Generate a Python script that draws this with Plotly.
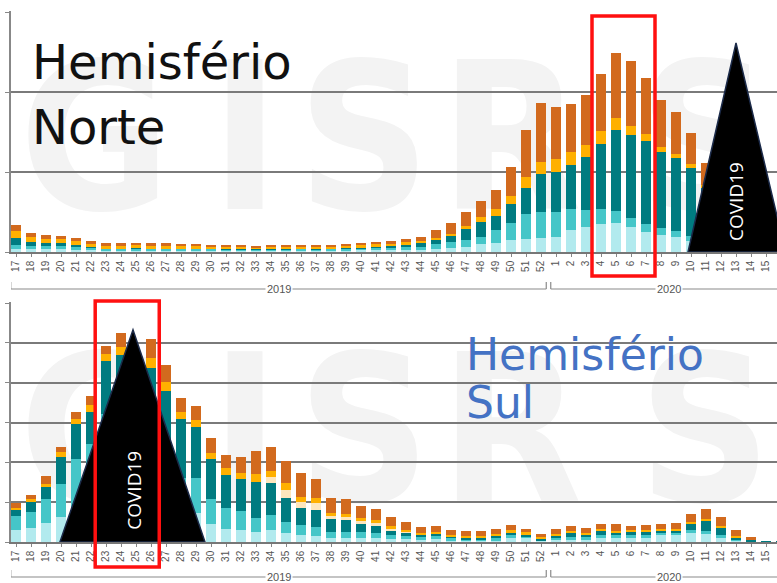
import plotly.graph_objects as go

# ---------------- data ----------------
weeks = [str(w) for w in range(17, 53)] + [str(w) for w in range(1, 17)]
years = ["2019"] * 36 + ["2020"] * 16

# Northern hemisphere (stack bottom -> top)
north_pale = [3, 3, 3, 3, 2, 2, 1.5, 1.5, 1.5, 1.5, 1.5, 1.5, 1.5, 1.5, 1.5, 1.5, 1.5, 1.5,
              1.5, 1.5, 1.5, 1.5, 1.5, 2, 2, 2, 2, 2.5, 3, 4, 5, 8, 9, 12, 13, 14,
              15, 22, 25, 28, 29, 25, 20, 17, 15, 11, 9, 7, 5, 4, 3, 2]
north_turq = [4, 3, 3, 3, 3, 2, 1.5, 1.5, 2, 1.5, 1.5, 1.5, 1.5, 1.5, 1, 1, 1, 1,
              1, 1.5, 1, 1.5, 1.5, 1.5, 2, 2, 3, 3, 5, 6, 7, 7, 13, 17, 25, 26,
              25, 21, 17, 15, 12, 9, 8, 7, 6, 5, 5, 4, 3, 2, 2, 2]
north_teal = [7, 4, 3, 3, 2, 1, 0.5, 0.5, 0.5, 0.5, 0.5, 0.5, 0.5, 0.5, 0.5, 0.5, 0.5, 0.5,
              0.5, 0.5, 0.5, 0.5, 1, 1, 1.5, 2, 2.5, 3.5, 4, 6, 11, 15, 14, 19, 26, 38,
              40, 44, 53, 65, 81, 83, 83, 76, 73, 68, 50, 38, 26, 18, 12, 9]
north_yellow = [7, 5, 4, 4, 4, 3, 3, 3, 3, 3, 3, 2.5, 2.5, 2, 2, 2, 1.5, 2,
                2, 2, 2, 2, 2, 2.5, 2.5, 2.5, 2.5, 2, 2, 2, 3, 5, 7, 8, 11, 12,
                13, 13, 12, 13, 12, 9, 7, 5, 4, 4, 3, 2, 2, 1, 1, 1]
north_dark = [6, 4, 4, 3, 3, 3, 2.5, 2.5, 2.5, 2.5, 2.5, 2, 2, 2, 2, 2, 2, 2,
              2, 2, 2, 2, 2, 2, 2, 2.5, 3, 4, 8, 11, 14, 16, 19, 29, 47, 59,
              52, 48, 50, 57, 65, 65, 56, 47, 42, 31, 22, 19, 14, 10, 7, 6]

# Southern hemisphere
south_pale = [12, 14, 19, 25, 35, 49, 69, 63, 55, 55, 35, 29, 29, 18, 13, 12, 10, 12,
              9, 7, 6, 4, 4, 4, 4, 3, 3, 2, 3, 2, 1, 1, 2, 4, 4, 1,
              3, 3, 3, 4, 4, 4, 4, 7, 8, 9, 8, 5, 1, 0.5, 0, 0]
south_turq = [14, 16, 24, 33, 48, 49, 60, 65, 55, 60, 40, 35, 35, 25, 21, 19, 14, 15,
              11, 10, 9, 6, 6, 6, 5, 4, 3, 3, 3, 2, 2, 2, 2, 3, 2, 1,
              2, 2, 2, 3, 3, 3, 3, 3, 2, 3, 3, 2, 1, 0, 0, 0]
south_teal = [7, 11, 13, 27, 35, 33, 53, 60, 50, 60, 77, 60, 51, 40, 33, 32, 36, 32,
              24, 17, 17, 13, 12, 8, 7, 5, 4, 3, 3, 2, 2, 2, 3, 3, 2, 2,
              2, 5, 3, 5, 3, 4, 4, 2, 2, 7, 11, 8, 3, 2, 0.6, 0.4]
south_cream = [0, 0, 0, 0, 0, 0, 0, 0, 0, 0, 0, 0, 0, 0, 0, 0, 0, 6,
               8, 6, 7, 3, 3, 3, 3, 2, 1, 0, 0, 0, 0, 0, 0, 0, 0, 0,
               0, 0, 0, 0, 0, 0, 0, 0, 0, 0, 0, 0, 0, 0, 0, 0]
south_yellow = [1, 2, 2, 5, 6, 7, 7, 8, 8, 10, 9, 7, 8, 6, 7, 6, 8, 6,
                7, 5, 5, 3, 3, 3, 3, 2, 1, 1, 1, 1, 1, 1, 1, 2, 2, 1,
                1, 1, 1, 1, 1, 1, 1, 1, 1, 1, 1, 1, 1, 0.5, 0, 0]
south_dark = [5, 4, 8, 5, 7, 9, 8, 14, 12, 19, 17, 14, 14, 15, 13, 16, 23, 24,
              22, 24, 19, 15, 15, 12, 11, 9, 8, 6, 6, 5, 5, 5, 5, 5, 3, 3,
              5, 5, 5, 5, 7, 4, 5, 5, 6, 8, 10, 9, 6, 2, 0, 0]

# highlighted weeks (red boxes)
north_box = ("4", "7")
south_box = ("23", "26")

# ---------------- figure ----------------
W, H = 777, 583
def py(px):
    return 1 - px / H

idx = list(range(len(weeks)))
C_PALE, C_TURQ, C_TEAL = "#b2eaee", "#45c6c8", "#007b80"
C_CREAM, C_YEL, C_DARK = "#fde6bd", "#ffb000", "#d26a1e"

fig = go.Figure()

def add_stack(xa, ya, layers):
    for vals, col in layers:
        fig.add_trace(go.Bar(x=idx, y=vals, marker=dict(color=col, line=dict(width=0)),
                             xaxis=xa, yaxis=ya, showlegend=False, hoverinfo="skip"))

add_stack("x", "y", [(north_pale, C_PALE), (north_turq, C_TURQ), (north_teal, C_TEAL),
                     (north_yellow, C_YEL), (north_dark, C_DARK)])
add_stack("x2", "y2", [(south_pale, C_PALE), (south_turq, C_TURQ), (south_teal, C_TEAL),
                       (south_cream, C_CREAM), (south_yellow, C_YEL), (south_dark, C_DARK)])

xr = [(11 - 16) / 15, (777 - 16) / 15]
xdom = [11 / W, 1]
grid = "#7a7a7a"
tickfont = dict(family="Liberation Sans, Arial", size=10, color="#555555")
common_x = dict(range=xr, domain=xdom, tickvals=idx, ticktext=weeks, tickangle=-90,
                tickfont=tickfont, ticks="outside", ticklen=3, tickcolor="#888888",
                showline=True, linecolor="#777777", linewidth=1.5, showgrid=False,
                zeroline=False, fixedrange=True, automargin=False)
fig.update_layout(
    width=W, height=H, autosize=False,
    margin=dict(l=0, r=0, t=0, b=0),
    paper_bgcolor="white", plot_bgcolor="rgba(0,0,0,0)",
    barmode="stack", bargap=0.33,
    xaxis=dict(anchor="y", **common_x),
    xaxis2=dict(anchor="y2", **common_x),
    yaxis=dict(domain=[py(252), py(11)], range=[0, 241], dtick=80, showgrid=True,
               gridcolor=grid, gridwidth=1.5, showticklabels=False, ticks="outside",
               ticklen=4, tickcolor="#888888", showline=True, linecolor="#888888",
               linewidth=1.5, zeroline=False, anchor="x", automargin=False, fixedrange=True),
    yaxis2=dict(domain=[py(542), py(302)], range=[0, 241], dtick=40, showgrid=True,
                gridcolor=grid, gridwidth=1.5, showticklabels=False, ticks="outside",
                ticklen=4, tickcolor="#888888", showline=True, linecolor="#888888",
                linewidth=1.5, zeroline=False, anchor="x2", automargin=False, fixedrange=True),
)

shapes = []
annotations = []

# watermark letters (behind grid)
wm_x = [95, 245, 364, 511, 705]
for letters_y in (123, 415):
    for px_x, ch in zip(wm_x, "GISRS"):
        shapes.append(dict(type="rect", xref="paper", yref="paper",
                           x0=(px_x - 60) / W, x1=(px_x + 60) / W,
                           y0=py(letters_y + 90), y1=py(letters_y - 90),
                           line=dict(width=0), fillcolor="rgba(0,0,0,0)", layer="below",
                           label=dict(text=ch, textposition="middle center",
                                      font=dict(family="Liberation Sans Narrow, DejaVu Sans Condensed, Liberation Sans",
                                                size=205, color="#f3f3f3", weight="bold"))))

# year brackets
def year_bracket(xa, y_line_px):
    groups = []
    for i, yv in enumerate(years):
        if not groups or groups[-1][0] != yv:
            groups.append([yv, i, i])
        else:
            groups[-1][2] = i
    for k, (yv, a, b) in enumerate(groups):
        x0 = a - 0.35
        x1 = b + 0.35 if k < len(groups) - 1 else b + 2
        yl = py(y_line_px)
        yt = py(y_line_px - 7)
        shapes.append(dict(type="line", xref=xa, yref="paper", x0=x0, x1=x1, y0=yl, y1=yl,
                           line=dict(color="#8a8a8a", width=1.2)))
        shapes.append(dict(type="line", xref=xa, yref="paper", x0=x0, x1=x0, y0=yl, y1=yt,
                           line=dict(color="#8a8a8a", width=1.2)))
        if k < len(groups) - 1:
            shapes.append(dict(type="line", xref=xa, yref="paper", x0=x1, x1=x1, y0=yl, y1=yt,
                               line=dict(color="#8a8a8a", width=1.2)))
        annotations.append(dict(xref=xa, yref="paper", x=(a + b) / 2, y=yl, text=yv,
                                showarrow=False, bgcolor="white", borderpad=1,
                                font=dict(family="Liberation Sans, Arial", size=11, color="#555555"),
                                xanchor="center", yanchor="middle"))

year_bracket("x", 289)
year_bracket("x2", 577)

# triangles
shapes.append(dict(type="path", xref="x", yref="y", layer="above",
                   path="M 44.8,0 L 48.0,209 L 51.3,0 Z",
                   fillcolor="black", line=dict(color="#1c2b4a", width=1.5)))
shapes.append(dict(type="path", xref="x2", yref="y2", layer="above",
                   path="M 2.93,0 L 7.8,213 L 12.6,0 Z",
                   fillcolor="black", line=dict(color="#1c2b4a", width=1.5)))

# red boxes
def red_box(xa, wk, top_px, bot_px, pad_l, pad_r):
    a = weeks.index(wk[0], 36 if xa == "x" else 0)
    b = weeks.index(wk[1], 36 if xa == "x" else 0)
    shapes.append(dict(type="rect", xref=xa, yref="paper", x0=a - pad_l, x1=b + pad_r,
                       y0=py(bot_px), y1=py(top_px), layer="above",
                       line=dict(color="#ff1010", width=3.5), fillcolor="rgba(0,0,0,0)"))

red_box("x", north_box, 16, 276, 0.6, 0.6)
red_box("x2", south_box, 301, 567, 0.72, 0.55)

# COVID19 labels
covid_font = dict(family="Open Sans", size=19, color="white")
annotations.append(dict(xref="x", yref="y", x=48.0, y=50, text="COVID19", textangle=-90,
                        showarrow=False, font=covid_font))
annotations.append(dict(xref="x2", yref="y2", x=7.9, y=52, text="COVID19", textangle=-90,
                        showarrow=False, font=covid_font))

# titles
title_font = dict(family="DejaVu Sans", size=48, color="#111111")
annotations.append(dict(xref="paper", yref="paper", x=30 / W, y=py(62), text="Hemisfério",
                        showarrow=False, xanchor="left", yanchor="middle", font=title_font))
annotations.append(dict(xref="paper", yref="paper", x=30 / W, y=py(127), text="Norte",
                        showarrow=False, xanchor="left", yanchor="middle", font=title_font))
sul_font = dict(family="DejaVu Sans", size=44, color="#4472c4")
annotations.append(dict(xref="paper", yref="paper", x=464 / W, y=py(354), text="Hemisfério",
                        showarrow=False, xanchor="left", yanchor="middle", font=sul_font))
annotations.append(dict(xref="paper", yref="paper", x=464 / W, y=py(403), text="Sul",
                        showarrow=False, xanchor="left", yanchor="middle", font=sul_font))

fig.update_layout(shapes=shapes, annotations=annotations)
fig.write_html("out.html", config={"displayModeBar": False},
               post_script="document.body.style.margin='0';document.body.style.overflow='hidden';")
